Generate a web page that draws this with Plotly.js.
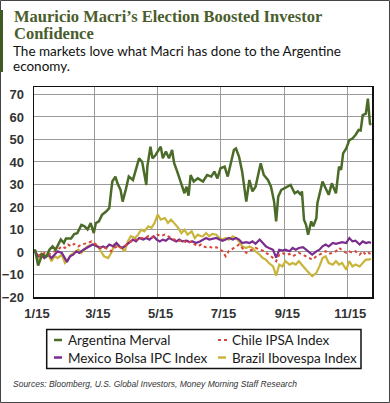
<!DOCTYPE html>
<html><head><meta charset="utf-8">
<script src="https://cdn.plot.ly/plotly-3.0.1.min.js"></script>
<style>html,body{margin:0;padding:0;background:#fff;}#chart{width:390px;height:403px;}</style>
</head><body><div id="chart"></div>
<script>
// ---- Data (percent change since start of 2015) ----
const argDates = ['2015-01-01','2015-01-02','2015-01-05','2015-01-09','2015-01-13','2015-01-16','2015-01-19','2015-01-22','2015-01-27','2015-01-30','2015-02-01','2015-02-06','2015-02-09','2015-02-12','2015-02-16','2015-02-19','2015-02-22','2015-02-25','2015-02-28','2015-03-02','2015-03-05','2015-03-08','2015-03-12','2015-03-15','2015-03-17','2015-03-18','2015-03-21','2015-03-23','2015-03-26','2015-03-28','2015-03-31','2015-04-03','2015-04-07','2015-04-10','2015-04-13','2015-04-16','2015-04-20','2015-04-21','2015-04-24','2015-04-26','2015-04-29','2015-05-04','2015-05-06','2015-05-09','2015-05-12','2015-05-15','2015-05-17','2015-05-20','2015-05-24','2015-05-27','2015-05-29','2015-05-31','2015-06-02','2015-06-05','2015-06-09','2015-06-14','2015-06-18','2015-06-22','2015-06-25','2015-06-28','2015-07-01','2015-07-05','2015-07-08','2015-07-11','2015-07-14','2015-07-16','2015-07-19','2015-07-22','2015-07-26','2015-07-29','2015-08-01','2015-08-04','2015-08-09','2015-08-12','2015-08-16','2015-08-19','2015-08-22','2015-08-24','2015-08-26','2015-08-29','2015-09-01','2015-09-04','2015-09-07','2015-09-11','2015-09-14','2015-09-17','2015-09-18','2015-09-20','2015-09-22','2015-09-24','2015-09-27','2015-09-29','2015-10-02','2015-10-03','2015-10-06','2015-10-08','2015-10-11','2015-10-14','2015-10-17','2015-10-19','2015-10-21','2015-10-24','2015-10-26','2015-10-28','2015-10-31','2015-11-03','2015-11-06','2015-11-09','2015-11-12','2015-11-14','2015-11-16','2015-11-19','2015-11-21','2015-11-23','2015-11-24'];
const argentina = [0,1,-6,-1,-2,1,2.5,1,5.6,4,6,6,8,8.4,12,11.4,10,12.8,8.4,12.8,13.6,16.5,18,19.5,27.6,31.3,33.5,30.5,27.6,22.4,27.6,33.5,32,36.5,41.6,40,29.8,37.9,46.8,41.6,43.1,46.8,41.6,44.6,41.6,45.3,39.4,35.7,29.8,26.1,29,25,34.2,31.3,32.7,31.3,34.2,33.5,35.7,32.7,37.2,37.9,33.5,39.4,45.3,46,42.3,35.7,22.4,32,26.9,29,39.4,34.2,32,29,22.4,13.6,24.6,27.6,28.3,29,29.8,26.1,26.9,25.4,26.9,14.3,12.1,7.7,13.6,11.4,15,21.7,27.6,31.3,28.3,25.4,30.5,28.3,26.1,37.9,36.5,43.8,46,49.7,50.4,52,54.2,54,60.8,61.5,68.1,57.1,56.4];

const mexDates = ['2015-01-01','2015-01-02','2015-01-05','2015-01-08','2015-01-11','2015-01-15','2015-01-18','2015-01-21','2015-01-24','2015-01-28','2015-01-31','2015-02-02','2015-02-05','2015-02-08','2015-02-11','2015-02-14','2015-02-18','2015-02-21','2015-02-24','2015-02-27','2015-03-03','2015-03-06','2015-03-09','2015-03-12','2015-03-15','2015-03-19','2015-03-22','2015-03-25','2015-03-28','2015-04-01','2015-04-04','2015-04-07','2015-04-10','2015-04-13','2015-04-17','2015-04-20','2015-04-23','2015-04-27','2015-04-30','2015-05-03','2015-05-06','2015-05-09','2015-05-12','2015-05-16','2015-05-19','2015-05-22','2015-05-25','2015-05-29','2015-06-01','2015-06-04','2015-06-07','2015-06-11','2015-06-14','2015-06-17','2015-06-20','2015-06-23','2015-06-27','2015-06-30','2015-07-03','2015-07-06','2015-07-09','2015-07-13','2015-07-16','2015-07-19','2015-07-22','2015-07-26','2015-07-29','2015-08-01','2015-08-04','2015-08-08','2015-08-11','2015-08-14','2015-08-17','2015-08-21','2015-08-24','2015-08-27','2015-08-30','2015-09-02','2015-09-06','2015-09-09','2015-09-12','2015-09-15','2015-09-19','2015-09-22','2015-09-25','2015-09-28','2015-10-02','2015-10-05','2015-10-08','2015-10-11','2015-10-14','2015-10-18','2015-10-21','2015-10-24','2015-10-27','2015-10-31','2015-11-03','2015-11-06','2015-11-09','2015-11-13','2015-11-16','2015-11-19','2015-11-22','2015-11-24'];
const mexico = [0,0.3,-1.9,-1.2,-2.7,-1.2,-2.7,-1.2,0.3,-0.4,-2.7,-4.4,-1.9,-1.2,0.3,-0.4,1,1.8,2.5,3.3,2.5,1.8,2.5,1.8,3.3,2.5,4,2.5,1.8,3.3,4.7,5.5,4.7,6.2,5.5,6.2,5.5,7,5.5,4.7,5.5,5,6.2,5.5,4.7,5.5,4.7,5,4.4,4.7,4,4.7,5.5,6.2,5.5,5.9,6.2,5.5,5,5.5,6.2,5.5,6.2,5.5,4,4.4,4,4.7,3.6,5.5,4,2.5,1.8,1,-2.5,1,0.6,1,0.3,1.8,1,1.8,2.1,1,0.3,-1.2,0.3,1,2.5,3.3,2.5,4,3.6,4,4.4,4,6.2,4.7,5,3.3,4.7,4,4.4,4];

const grid10Dates = ['2015-01-01','2015-01-02','2015-01-05','2015-01-08','2015-01-11','2015-01-15','2015-01-18','2015-01-21','2015-01-24','2015-01-28','2015-01-31','2015-02-03','2015-02-06','2015-02-09','2015-02-13','2015-02-16','2015-02-19','2015-02-22','2015-02-26','2015-03-01','2015-03-04','2015-03-07','2015-03-10','2015-03-14','2015-03-17','2015-03-20','2015-03-23','2015-03-27','2015-03-30','2015-04-02','2015-04-05','2015-04-09','2015-04-12','2015-04-15','2015-04-18','2015-04-22','2015-04-25','2015-04-28','2015-05-01','2015-05-04','2015-05-08','2015-05-11','2015-05-14','2015-05-17','2015-05-21','2015-05-24','2015-05-27','2015-05-30','2015-06-03','2015-06-06','2015-06-09','2015-06-12','2015-06-14','2015-06-17','2015-06-20','2015-06-23','2015-06-27','2015-06-30','2015-07-03','2015-07-06','2015-07-09','2015-07-13','2015-07-16','2015-07-19','2015-07-22','2015-07-26','2015-07-29','2015-08-01','2015-08-04','2015-08-08','2015-08-11','2015-08-14','2015-08-17','2015-08-21','2015-08-24','2015-08-27','2015-08-30','2015-09-02','2015-09-06','2015-09-09','2015-09-12','2015-09-15','2015-09-19','2015-09-22','2015-09-25','2015-09-28','2015-10-02','2015-10-05','2015-10-08','2015-10-11','2015-10-14','2015-10-18','2015-10-21','2015-10-24','2015-10-27','2015-10-31','2015-11-03','2015-11-06','2015-11-09','2015-11-13','2015-11-16','2015-11-19','2015-11-22','2015-11-24'];
const chile = [0,0.3,-1.2,-1.9,-0.4,-1.2,-0.4,0.3,1,2.5,1.8,3.3,2.5,3.6,2.5,3.3,3.6,4,4.7,3.6,2.5,1.8,2.1,1,0.3,1.8,2.5,1.8,2.5,4,4.7,5.5,5.5,6.2,6.2,7,6.2,7,7.7,7,7.7,7,6.2,5.5,4.7,5.5,4.7,4,4.7,3.3,2.5,3.3,2.5,2.1,2.5,1.8,2.1,1,0.3,-1.9,0.3,1.5,2.5,3.3,1.8,-0.4,0.6,1,1.8,1,0.6,-0.4,-1.2,-2.7,-4.1,-1.2,-0.4,-1.2,-0.9,-1.9,-1.2,-0.4,-1.2,-1.9,-2.7,-3.4,-1.9,-1.2,-0.4,0.3,-0.9,-0.4,0.3,1.8,1,-0.4,0.3,-0.4,0.3,-1.2,0.3,-1.2,-0.4,-1];
const brazil = [0,1,-3.4,-0.4,-2.7,-1.2,-4.1,-1.9,-2.7,-1.2,-4.9,-3.4,-1.2,-0.4,1,-0.4,1,2.5,3.3,3.3,2.5,0.3,-1.9,-2.7,-0.4,3.3,2.5,1.8,0.3,4.7,7,6.2,7.7,9.9,9.2,11.4,10.7,12.9,16.6,14.4,15.1,12.9,14.4,12.9,10.7,8.4,9.9,7.7,9.2,6.2,7.7,7,7,8.4,7,8,7.7,6.2,5.5,6.2,5.5,7,6.2,4.7,2.5,1.8,2.5,1.8,0.3,-1.2,-2.7,-3.4,-4.9,-6.4,-10.5,-5.6,-6.4,-4.1,-5.6,-4.9,-5.6,-4.1,-6.4,-7.9,-9.3,-10.8,-9.3,-6.4,-2.7,-1.9,-4.9,-5.6,-4.1,-5.6,-4.9,-7.9,-4.1,-6.4,-5.6,-6.4,-4.9,-3.4,-3.4,-3];

const seriesNames = ['Argentina Merval','Chile IPSA Index','Mexico Bolsa IPC Index','Brazil Ibovespa Index'];
const tickDates = ['2015-01-01','2015-03-01','2015-05-01','2015-07-01','2015-09-01','2015-11-01'];
const tickLabels = ['1/15','3/15','5/15','7/15','9/15','11/15'];
const yTicks = [-20,-10,0,10,20,30,40,50,60,70];

// ---- Layout geometry (pixels) ----
const W = 390, H = 403, L = 34, R = 18, T = 87, B = 106;
const PW = W - L - R, PH = H - T - B;
const px = x => (x - L) / PW;
const py = y => (H - B - y) / PH;

const cArg = '#4b6b28', cChile = '#d9473b', cMex = '#7b2d8e', cBra = '#c9b53b';

const traces = [
  {x: grid10Dates, y: brazil, type:'scatter', mode:'lines', line:{color:cBra, width:2.2}, showlegend:false, hoverinfo:'skip'},
  {x: mexDates, y: mexico, type:'scatter', mode:'lines', line:{color:cMex, width:2.2}, showlegend:false, hoverinfo:'skip'},
  {x: grid10Dates, y: chile, type:'scatter', mode:'lines', line:{color:cChile, width:2, dash:'dot'}, showlegend:false, hoverinfo:'skip'},
  {x: argDates, y: argentina, type:'scatter', mode:'lines', line:{color:cArg, width:2.5}, showlegend:false, hoverinfo:'skip'}
];

const tickFont = {family:'Liberation Sans, Arial, sans-serif', size:13, color:'#333', weight:'bold'};
const legFont = {family:'Lato, sans-serif', size:13.5, color:'#1a1a1a'};
const titleFont = {family:'Liberation Serif, serif', size:16.5, color:'#4a5d2c', weight:'bold'};
const subFont = {family:'Lato, sans-serif', size:13.5, color:'#111'};

const annotations = [
  {text:'Mauricio Macri\u2019s Election Boosted Investor', x:px(13), y:py(16.5), font:titleFont},
  {text:'Confidence', x:px(13), y:py(33), font:titleFont},
  {text:'The markets love what Macri has done to the Argentine', x:px(12), y:py(51), font:subFont},
  {text:'economy.', x:px(12), y:py(66.5), font:subFont},
  {text:seriesNames[0], x:px(67), y:py(340), font:legFont},
  {text:seriesNames[1], x:px(231), y:py(340), font:legFont},
  {text:seriesNames[2], x:px(67), y:py(357.5), font:legFont},
  {text:seriesNames[3], x:px(231), y:py(357.5), font:legFont},
  {text:'Sources: Bloomberg, U.S. Global Investors, Money Morning Staff Research', x:px(12), y:py(384), font:{family:'Liberation Sans, sans-serif', size:8.5, color:'#333', style:'italic'}}
].map(a => Object.assign({xref:'paper', yref:'paper', xanchor:'left', yanchor:'middle', showarrow:false, borderpad:0}, a));

const shapes = [
  // outer border
  {type:'rect', xref:'paper', yref:'paper', x0:px(0.5), x1:px(389.5), y0:py(0.5), y1:py(402.5), line:{color:'#444', width:1}, fillcolor:'rgba(0,0,0,0)', layer:'below'},
  // accent bar next to title
  {type:'rect', xref:'paper', yref:'paper', x0:px(0), x1:px(3), y0:py(10), y1:py(72), line:{width:0}, fillcolor:'#3f5a22'},
  // legend box
  {type:'rect', xref:'paper', yref:'paper', x0:px(46.7), x1:px(361), y0:py(329.5), y1:py(368.5), line:{color:'#111', width:1.5}, fillcolor:'rgba(0,0,0,0)'},
  // legend symbols
  {type:'line', xref:'paper', yref:'paper', x0:px(54), x1:px(62), y0:py(340), y1:py(340), line:{color:cArg, width:2.5}},
  {type:'line', xref:'paper', yref:'paper', x0:px(218), x1:px(227), y0:py(340), y1:py(340), line:{color:cChile, width:2, dash:'dot'}},
  {type:'line', xref:'paper', yref:'paper', x0:px(54), x1:px(62), y0:py(357.5), y1:py(357.5), line:{color:cMex, width:2.5}},
  {type:'line', xref:'paper', yref:'paper', x0:px(218), x1:px(226), y0:py(357.5), y1:py(357.5), line:{color:cBra, width:2.5}}
];

const layout = {
  width: W, height: H,
  margin: {l:L, r:R, t:T, b:B, pad:0},
  paper_bgcolor:'#fff', plot_bgcolor:'#fff',
  showlegend:false,
  xaxis: {type:'date', range:['2015-01-01','2015-11-25'], tickvals:tickDates, ticktext:tickLabels,
          showgrid:true, gridcolor:'#999', gridwidth:1, zeroline:false,
          showline:true, mirror:true, linecolor:'#111', linewidth:1.5, ticks:'', tickfont:tickFont,
          ticklabelstandoff:4, ticklabelshift:3},
  yaxis: {range:[-20,73.3], tickvals:yTicks, showgrid:true, gridcolor:'#999', gridwidth:1, zeroline:false,
          showline:true, mirror:true, linecolor:'#111', linewidth:1.5, ticks:'', tickfont:tickFont, ticklabelstandoff:6},
  annotations, shapes
};

Plotly.newPlot('chart', traces, layout, {staticPlot:true, displayModeBar:false});
</script></body></html>
